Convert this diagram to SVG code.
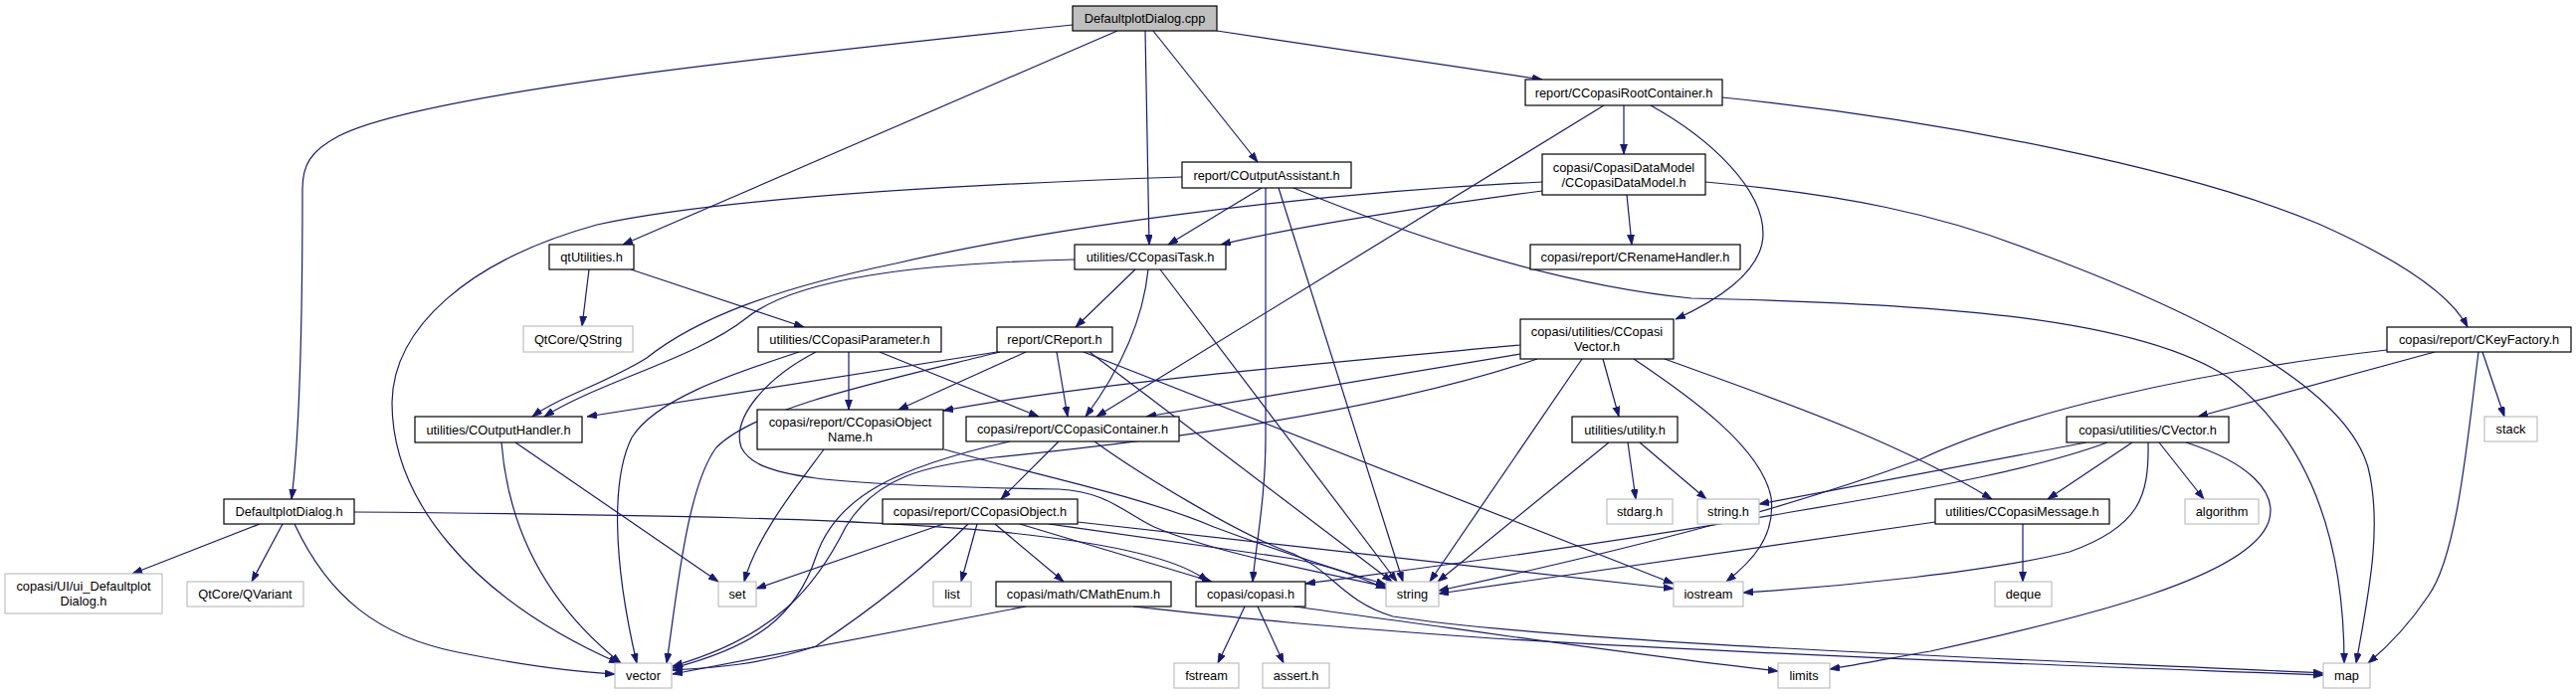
<svg xmlns="http://www.w3.org/2000/svg" width="2589" height="699" viewBox="0 0 2589 699">
<style>
.n rect{fill:#ffffff;stroke:#000000;stroke-width:1.2}
.g rect{fill:#ffffff;stroke:#bfbfbf;stroke-width:1.2}
.t rect{fill:#bfbfbf;stroke:#000000;stroke-width:1.2}
text{font-family:"Liberation Sans",Arial,Helvetica,sans-serif;font-size:12.8px;text-anchor:middle;fill:#000000}
#edges path{fill:none;stroke:#191970;stroke-width:1.2;marker-end:url(#a)}
</style>
<defs>
<marker id="a" markerUnits="userSpaceOnUse" markerWidth="11" markerHeight="8" refX="10" refY="3.5" orient="auto">
<path d="M0,0 L10,3.5 L0,7 z" fill="#191970" stroke="#191970" stroke-width="0.8"/>
</marker>
</defs>
<rect x="0" y="0" width="2589" height="699" fill="#ffffff"/>
<g id="edges">
<path d="M1078,25 C760,58 420,95 340,137 C312,152 304,166 304,190 C304,320 302,430 293,502"/>
<path d="M1123,31 L626,246"/>
<path d="M1151,31 L1155,246"/>
<path d="M1159,31 L1264,163"/>
<path d="M1223,31 L1550,80"/>
<path d="M1632,106 L1632,155"/>
<path d="M1612,106 L1102,419"/>
<path d="M1659,106 C1720,140 1772,190 1772,235 C1772,275 1720,305 1684,321"/>
<path d="M1731,98 C1950,120 2200,170 2330,225 C2420,265 2465,300 2480,329"/>
<path d="M1188,178 C950,186 720,200 600,226 C470,262 395,330 394,405 C394,500 470,600 622,667"/>
<path d="M1268,189 L1174,246"/>
<path d="M1272,189 L1272,440 C1272,500 1262,550 1259,585"/>
<path d="M1285,189 L1410,585"/>
<path d="M1300,189 C1400,230 1550,285 1700,300 C1950,305 2150,320 2240,380 C2330,450 2356,560 2356,667"/>
<path d="M1550,183 C1300,195 1050,230 900,265 C780,290 700,320 650,360 C610,385 560,400 535,419"/>
<path d="M1550,192 C1450,205 1300,228 1227,246"/>
<path d="M1635,196 L1640,246"/>
<path d="M1714,183 C1850,195 1950,215 2050,255 C2250,330 2360,400 2380,470 C2395,530 2380,600 2368,667"/>
<path d="M592,271 L585,328"/>
<path d="M634,271 L808,329"/>
<path d="M1080,261 C920,265 800,280 750,320 C700,360 600,385 547,419"/>
<path d="M1141,271 L1081,329"/>
<path d="M1154,271 C1148,330 1120,380 1091,419"/>
<path d="M1166,271 L1404,585"/>
<path d="M853,354 L853,412"/>
<path d="M884,354 L1044,419"/>
<path d="M803,354 C740,375 660,400 635,440 C615,480 615,560 640,667"/>
<path d="M820,354 C770,380 735,420 745,450 C760,480 820,488 1064,492 C1110,494 1130,515 1160,530 C1220,555 1300,570 1393,590"/>
<path d="M1002,354 L590,419"/>
<path d="M1031,354 L903,412"/>
<path d="M1062,354 L1073,419"/>
<path d="M1089,354 L1682,587"/>
<path d="M1095,354 L1399,585"/>
<path d="M1005,354 C880,385 760,410 720,450 C690,490 680,600 670,667"/>
<path d="M504,445 C510,520 540,600 624,667"/>
<path d="M518,445 L722,585"/>
<path d="M828,452 C800,490 760,540 748,585"/>
<path d="M949,452 C1050,480 1150,500 1220,530 C1300,560 1350,575 1393,588"/>
<path d="M1064,444 L1006,502"/>
<path d="M1015,444 C900,470 840,500 820,560 C800,620 760,650 676,672"/>
<path d="M1100,444 C1150,480 1250,540 1300,557 C1340,575 1350,605 1400,620 C1600,650 2100,665 2335,677"/>
<path d="M1528,347 C1300,368 1100,385 948,413"/>
<path d="M1528,356 L1152,419"/>
<path d="M1545,361 C1400,410 1200,440 1000,460 C930,468 880,480 850,530 C820,590 780,640 676,670"/>
<path d="M1590,361 L1437,585"/>
<path d="M1611,361 L1627,419"/>
<path d="M1642,361 C1700,400 1770,450 1780,500 C1785,540 1760,565 1735,585"/>
<path d="M1673,361 C1780,400 1900,440 2002,502"/>
<path d="M1617,445 L1445,585"/>
<path d="M1636,445 L1644,502"/>
<path d="M1648,445 L1715,502"/>
<path d="M2447,354 L2209,419"/>
<path d="M2495,354 L2517,419"/>
<path d="M2491,354 C2480,440 2470,560 2440,600 C2420,630 2400,650 2380,667"/>
<path d="M2399,352 C2200,375 2030,415 1930,462 C1800,510 1650,550 1446,594"/>
<path d="M2097,445 L1768,507"/>
<path d="M2118,445 C2050,470 1950,490 1800,515 C1600,550 1400,575 1312,587"/>
<path d="M2143,445 L2058,502"/>
<path d="M2159,445 C2160,500 2150,530 2080,555 C2000,575 1850,590 1752,596"/>
<path d="M2170,445 L2215,502"/>
<path d="M2197,445 C2260,465 2290,495 2280,525 C2260,580 2100,620 1940,655 C1900,662 1870,668 1839,673"/>
<path d="M1945,525 L1446,597"/>
<path d="M2033,527 L2033,585"/>
<path d="M261,527 L133,577"/>
<path d="M284,527 L253,585"/>
<path d="M296,527 C330,600 380,640 460,656 C530,670 580,676 618,678"/>
<path d="M356,515 C600,517 900,520 1050,540 C1130,550 1190,565 1214,585"/>
<path d="M948,527 L760,592"/>
<path d="M973,527 C930,570 880,610 820,650 C760,670 710,672 676,674"/>
<path d="M982,527 L966,585"/>
<path d="M1000,527 L1069,585"/>
<path d="M1025,527 L1218,585"/>
<path d="M1083,525 L1682,592"/>
<path d="M1054,527 C1150,540 1250,555 1300,562 C1340,570 1365,580 1393,592"/>
<path d="M1031,610 L676,678"/>
<path d="M1139,610 C1250,622 1300,628 1500,642 C1800,660 2100,670 2335,679"/>
<path d="M1251,610 L1224,667"/>
<path d="M1264,610 L1290,667"/>
<path d="M1300,610 C1450,630 1650,660 1787,675"/>
</g>
<g id="n_cpp" class="t"><rect x="1078" y="6" width="145" height="25"/><text x="1150.5" y="23">DefaultplotDialog.cpp</text></g>
<g id="n_root" class="n"><rect x="1533" y="80" width="198" height="26"/><text x="1632" y="97.5">report/CCopasiRootContainer.h</text></g>
<g id="n_oa" class="n"><rect x="1188" y="163" width="170" height="26"/><text x="1273" y="180.5">report/COutputAssistant.h</text></g>
<g id="n_dm" class="n"><rect x="1550" y="155" width="164" height="41"/><text x="1632" y="172.5">copasi/CopasiDataModel</text><text x="1632" y="187.5">/CCopasiDataModel.h</text></g>
<g id="n_qt" class="n"><rect x="552" y="246" width="85" height="25"/><text x="594.5" y="263">qtUtilities.h</text></g>
<g id="n_task" class="n"><rect x="1080" y="246" width="152" height="25"/><text x="1156" y="263">utilities/CCopasiTask.h</text></g>
<g id="n_ren" class="n"><rect x="1538" y="246" width="211" height="25"/><text x="1643.5" y="263">copasi/report/CRenameHandler.h</text></g>
<g id="n_qstring" class="g"><rect x="526" y="328" width="110" height="26"/><text x="581" y="345.5">QtCore/QString</text></g>
<g id="n_param" class="n"><rect x="762" y="329" width="184" height="25"/><text x="854" y="346">utilities/CCopasiParameter.h</text></g>
<g id="n_report" class="n"><rect x="1002" y="329" width="116" height="25"/><text x="1060" y="346">report/CReport.h</text></g>
<g id="n_cvec" class="n"><rect x="1528" y="321" width="154" height="40"/><text x="1605" y="337.5">copasi/utilities/CCopasi</text><text x="1605" y="352.5">Vector.h</text></g>
<g id="n_kf" class="n"><rect x="2399" y="329" width="185" height="25"/><text x="2491.5" y="346">copasi/report/CKeyFactory.h</text></g>
<g id="n_oh" class="n"><rect x="417" y="419" width="168" height="26"/><text x="501" y="436.5">utilities/COutputHandler.h</text></g>
<g id="n_on" class="n"><rect x="761" y="412" width="187" height="40"/><text x="854.5" y="428.5">copasi/report/CCopasiObject</text><text x="854.5" y="443.5">Name.h</text></g>
<g id="n_cont" class="n"><rect x="971" y="419" width="214" height="25"/><text x="1078" y="436">copasi/report/CCopasiContainer.h</text></g>
<g id="n_util" class="n"><rect x="1580" y="419" width="106" height="26"/><text x="1633" y="436.5">utilities/utility.h</text></g>
<g id="n_cv" class="n"><rect x="2077" y="419" width="163" height="26"/><text x="2158.5" y="436.5">copasi/utilities/CVector.h</text></g>
<g id="n_stack" class="g"><rect x="2497" y="419" width="53" height="25"/><text x="2523.5" y="436">stack</text></g>
<g id="n_dh" class="n"><rect x="225" y="502" width="131" height="25"/><text x="290.5" y="519">DefaultplotDialog.h</text></g>
<g id="n_obj" class="n"><rect x="887" y="502" width="196" height="25"/><text x="985" y="519">copasi/report/CCopasiObject.h</text></g>
<g id="n_stdarg" class="g"><rect x="1615" y="502" width="66" height="25"/><text x="1648" y="519">stdarg.h</text></g>
<g id="n_strh" class="g"><rect x="1706" y="502" width="62" height="25"/><text x="1737" y="519">string.h</text></g>
<g id="n_msg" class="n"><rect x="1945" y="502" width="175" height="25"/><text x="2032.5" y="519">utilities/CCopasiMessage.h</text></g>
<g id="n_alg" class="g"><rect x="2196" y="502" width="74" height="25"/><text x="2233" y="519">algorithm</text></g>
<g id="n_ui" class="g"><rect x="5" y="577" width="158" height="40"/><text x="84" y="593.5">copasi/UI/ui_Defaultplot</text><text x="84" y="608.5">Dialog.h</text></g>
<g id="n_qv" class="g"><rect x="188" y="585" width="117" height="25"/><text x="246.5" y="602">QtCore/QVariant</text></g>
<g id="n_set" class="g"><rect x="722" y="585" width="38" height="25"/><text x="741" y="602">set</text></g>
<g id="n_list" class="g"><rect x="938" y="585" width="38" height="25"/><text x="957" y="602">list</text></g>
<g id="n_me" class="n"><rect x="1001" y="585" width="176" height="25"/><text x="1089" y="602">copasi/math/CMathEnum.h</text></g>
<g id="n_copasi" class="n"><rect x="1202" y="585" width="110" height="25"/><text x="1257" y="602">copasi/copasi.h</text></g>
<g id="n_string" class="g"><rect x="1393" y="585" width="53" height="25"/><text x="1419.5" y="602">string</text></g>
<g id="n_ios" class="g"><rect x="1682" y="585" width="70" height="25"/><text x="1717" y="602">iostream</text></g>
<g id="n_deque" class="g"><rect x="2005" y="585" width="57" height="25"/><text x="2033.5" y="602">deque</text></g>
<g id="n_vector" class="g"><rect x="618" y="667" width="57" height="25"/><text x="646.5" y="684">vector</text></g>
<g id="n_fstream" class="g"><rect x="1180" y="667" width="65" height="25"/><text x="1212.5" y="684">fstream</text></g>
<g id="n_assert" class="g"><rect x="1269" y="667" width="67" height="25"/><text x="1302.5" y="684">assert.h</text></g>
<g id="n_limits" class="g"><rect x="1787" y="667" width="52" height="25"/><text x="1813" y="684">limits</text></g>
<g id="n_map" class="g"><rect x="2335" y="667" width="47" height="25"/><text x="2358.5" y="684">map</text></g>
</svg>
